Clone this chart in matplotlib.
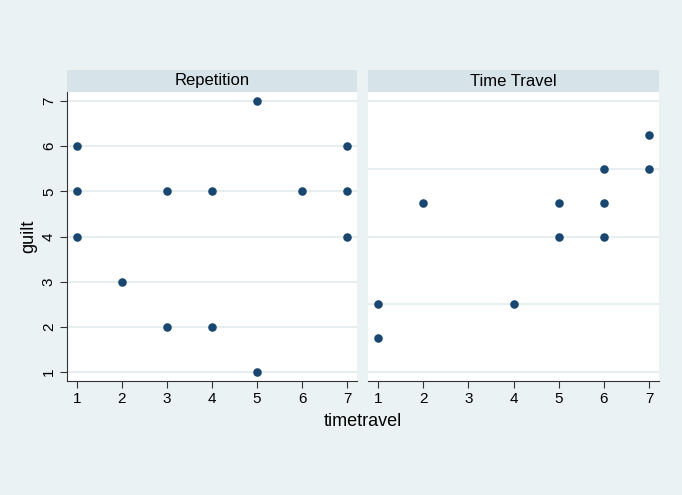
import matplotlib
matplotlib.use("Agg")
import matplotlib.pyplot as plt

plt.rcParams['font.family'] = ['Liberation Sans', 'DejaVu Sans']

panels = ["Repetition", "Time Travel"]
rep_x = [1, 1, 1, 2, 3, 3, 4, 4, 5, 5, 6, 7, 7, 7]
rep_y = [6, 5, 4, 3, 5, 2, 5, 2, 7, 1, 5, 6, 5, 4]
tt_x = [1, 1, 2, 4, 5, 5, 6, 6, 6, 7, 7]
tt_y = [2.5, 1.75, 4.75, 2.5, 4.75, 4, 5.5, 4.75, 4, 6.25, 5.5]
x_ticks = [1, 2, 3, 4, 5, 6, 7]
rep_yticks = [1, 2, 3, 4, 5, 6, 7]
tt_grid = [1, 2.5, 4, 5.5, 7]

bg = "#EAF2F3"
strip = "#D6E3E9"
marker = "#1A476F"
grid = "#E6EEF0"
spine = "#333333"

W, H = 682, 495
fig = plt.figure(figsize=(W / 100, H / 100), dpi=100)
fig.patch.set_facecolor(bg)

def box(l, t, r, b):
    return [l / W, 1 - b / H, (r - l) / W, (b - t) / H]

ax1 = fig.add_axes(box(67, 92, 357, 381))
ax2 = fig.add_axes(box(368, 92, 659, 381))

for ax, xs, ys, yt in [(ax1, rep_x, rep_y, rep_yticks), (ax2, tt_x, tt_y, tt_grid)]:
    ax.set_facecolor("white")
    ax.set_xlim(0.78, 7.22)
    ax.set_ylim(0.8, 7.2)
    ax.set_yticks(yt)
    ax.set_xticks(x_ticks)
    ax.grid(axis='y', color=grid, linewidth=1.4)
    ax.set_axisbelow(True)
    ax.scatter(xs, ys, s=38, color=marker, zorder=3, linewidths=0)
    for s in ['top', 'right']:
        ax.spines[s].set_visible(False)
    ax.spines['bottom'].set_color(spine)
    ax.spines['left'].set_color(spine)
    ax.tick_params(axis='x', direction='out', length=5, color=spine, labelsize=11, pad=3)
    ax.tick_params(axis='y', direction='out', length=5, color=spine, labelsize=11, pad=3, labelrotation=90)
    for lbl in ax.get_yticklabels():
        lbl.set_va('center')

ax2.spines['left'].set_visible(False)
ax2.tick_params(axis='y', left=False, labelleft=False)

ax1.set_ylabel("guilt", fontsize=13, labelpad=3)

for (l, r), title in zip([(67, 357), (368, 659)], panels):
    sa = fig.add_axes(box(l, 70, r, 92))
    sa.set_facecolor(strip)
    sa.set_xticks([]); sa.set_yticks([])
    for s in sa.spines.values():
        s.set_visible(False)
    sa.text(0.5, 0.5, title, ha='center', va='center', fontsize=12, transform=sa.transAxes)

fig.text((67 + 659) / 2 / W, 1 - 421 / H, "timetravel", ha='center', va='center', fontsize=13)

fig.savefig("out.png", dpi=100, facecolor=bg)
